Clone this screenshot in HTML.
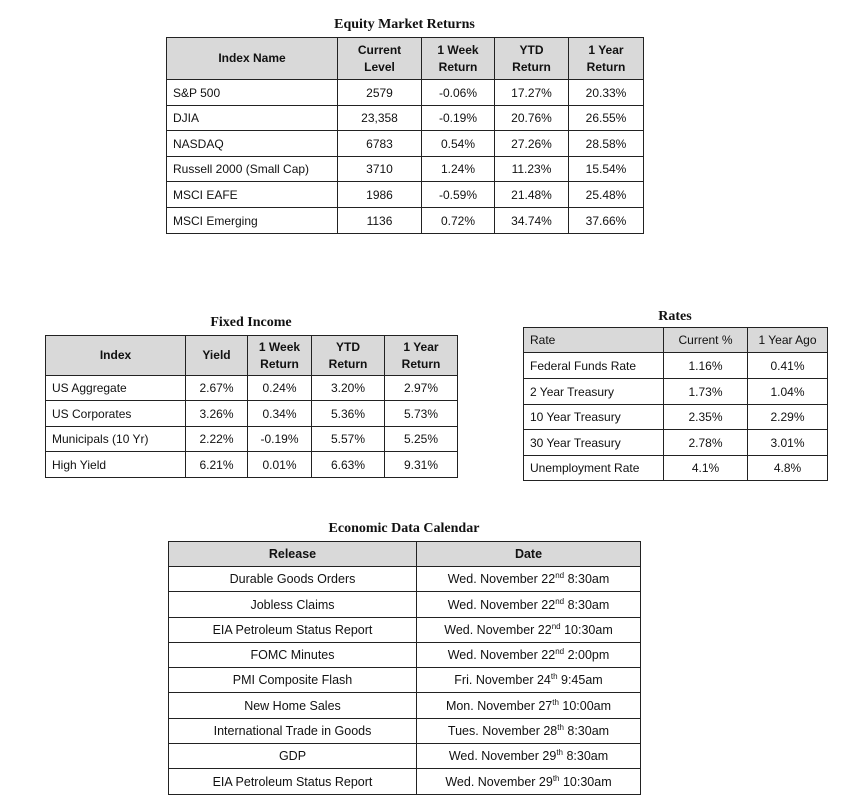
<!DOCTYPE html>
<html><head><style>
body{margin:0;width:852px;height:803px;background:#fff;position:relative;font-family:"Liberation Sans",sans-serif;color:#111;overflow:hidden}
.t{position:absolute;font-family:"Liberation Serif",serif;font-weight:bold;font-size:14px;text-align:center}
table{position:absolute;border-collapse:collapse;table-layout:fixed;font-size:12px}
td{border:1px solid #222;padding:0;text-align:center;white-space:nowrap;overflow:hidden}
td.l{text-align:left;padding-left:6px}
tr.h td{background:#d9d9d9;font-weight:bold;line-height:17px}
sup{font-size:8px;line-height:0}
</style></head><body>

<div class="t" style="left:166px;top:17px;width:477px">Equity Market Returns</div>
<table style="left:166px;top:37px;width:477px">
<colgroup><col style="width:171px"><col style="width:84px"><col style="width:73px"><col style="width:74px"><col style="width:75px"></colgroup>
<tr class="h" style="height:42px"><td>Index Name</td><td>Current<br>Level</td><td>1 Week<br>Return</td><td>YTD<br>Return</td><td>1 Year<br>Return</td></tr>
<tr style="height:26px"><td class="l">S&amp;P 500</td><td>2579</td><td>-0.06%</td><td>17.27%</td><td>20.33%</td></tr>
<tr style="height:25px"><td class="l">DJIA</td><td>23,358</td><td>-0.19%</td><td>20.76%</td><td>26.55%</td></tr>
<tr style="height:26px"><td class="l">NASDAQ</td><td>6783</td><td>0.54%</td><td>27.26%</td><td>28.58%</td></tr>
<tr style="height:25px"><td class="l">Russell 2000 (Small Cap)</td><td>3710</td><td>1.24%</td><td>11.23%</td><td>15.54%</td></tr>
<tr style="height:26px"><td class="l">MSCI EAFE</td><td>1986</td><td>-0.59%</td><td>21.48%</td><td>25.48%</td></tr>
<tr style="height:26px"><td class="l">MSCI Emerging</td><td>1136</td><td>0.72%</td><td>34.74%</td><td>37.66%</td></tr>
</table>

<div class="t" style="left:45px;top:315px;width:412px">Fixed Income</div>
<table style="left:45px;top:335px;width:412px">
<colgroup><col style="width:140px"><col style="width:62px"><col style="width:64px"><col style="width:73px"><col style="width:73px"></colgroup>
<tr class="h" style="height:40px"><td>Index</td><td>Yield</td><td>1 Week<br>Return</td><td>YTD<br>Return</td><td>1 Year<br>Return</td></tr>
<tr style="height:25px"><td class="l">US Aggregate</td><td>2.67%</td><td>0.24%</td><td>3.20%</td><td>2.97%</td></tr>
<tr style="height:26px"><td class="l">US Corporates</td><td>3.26%</td><td>0.34%</td><td>5.36%</td><td>5.73%</td></tr>
<tr style="height:25px"><td class="l">Municipals (10 Yr)</td><td>2.22%</td><td>-0.19%</td><td>5.57%</td><td>5.25%</td></tr>
<tr style="height:26px"><td class="l">High Yield</td><td>6.21%</td><td>0.01%</td><td>6.63%</td><td>9.31%</td></tr>
</table>

<div class="t" style="left:523px;top:309px;width:304px">Rates</div>
<table style="left:523px;top:327px;width:304px">
<colgroup><col style="width:140px"><col style="width:84px"><col style="width:80px"></colgroup>
<tr class="h" style="height:25px"><td class="l" style="font-weight:normal">Rate</td><td style="font-weight:normal">Current %</td><td style="font-weight:normal">1 Year Ago</td></tr>
<tr style="height:26px"><td class="l">Federal Funds Rate</td><td>1.16%</td><td>0.41%</td></tr>
<tr style="height:26px"><td class="l">2 Year Treasury</td><td>1.73%</td><td>1.04%</td></tr>
<tr style="height:25px"><td class="l">10 Year Treasury</td><td>2.35%</td><td>2.29%</td></tr>
<tr style="height:26px"><td class="l">30 Year Treasury</td><td>2.78%</td><td>3.01%</td></tr>
<tr style="height:25px"><td class="l">Unemployment Rate</td><td>4.1%</td><td>4.8%</td></tr>
</table>

<div class="t" style="left:168px;top:521px;width:472px">Economic Data Calendar</div>
<table style="left:168px;top:541px;width:472px;font-size:12.5px">
<colgroup><col style="width:248px"><col style="width:224px"></colgroup>
<tr class="h" style="height:25px"><td>Release</td><td>Date</td></tr>
<tr style="height:25px"><td>Durable Goods Orders</td><td>Wed. November 22<sup>nd</sup> 8:30am</td></tr>
<tr style="height:26px"><td>Jobless Claims</td><td>Wed. November 22<sup>nd</sup> 8:30am</td></tr>
<tr style="height:25px"><td>EIA Petroleum Status Report</td><td>Wed. November 22<sup>nd</sup> 10:30am</td></tr>
<tr style="height:25px"><td>FOMC Minutes</td><td>Wed. November 22<sup>nd</sup> 2:00pm</td></tr>
<tr style="height:25px"><td>PMI Composite Flash</td><td>Fri. November 24<sup>th</sup> 9:45am</td></tr>
<tr style="height:26px"><td>New Home Sales</td><td>Mon. November 27<sup>th</sup> 10:00am</td></tr>
<tr style="height:25px"><td>International Trade in Goods</td><td>Tues. November 28<sup>th</sup> 8:30am</td></tr>
<tr style="height:25px"><td>GDP</td><td>Wed. November 29<sup>th</sup> 8:30am</td></tr>
<tr style="height:26px"><td>EIA Petroleum Status Report</td><td>Wed. November 29<sup>th</sup> 10:30am</td></tr>
</table>
</body></html>
